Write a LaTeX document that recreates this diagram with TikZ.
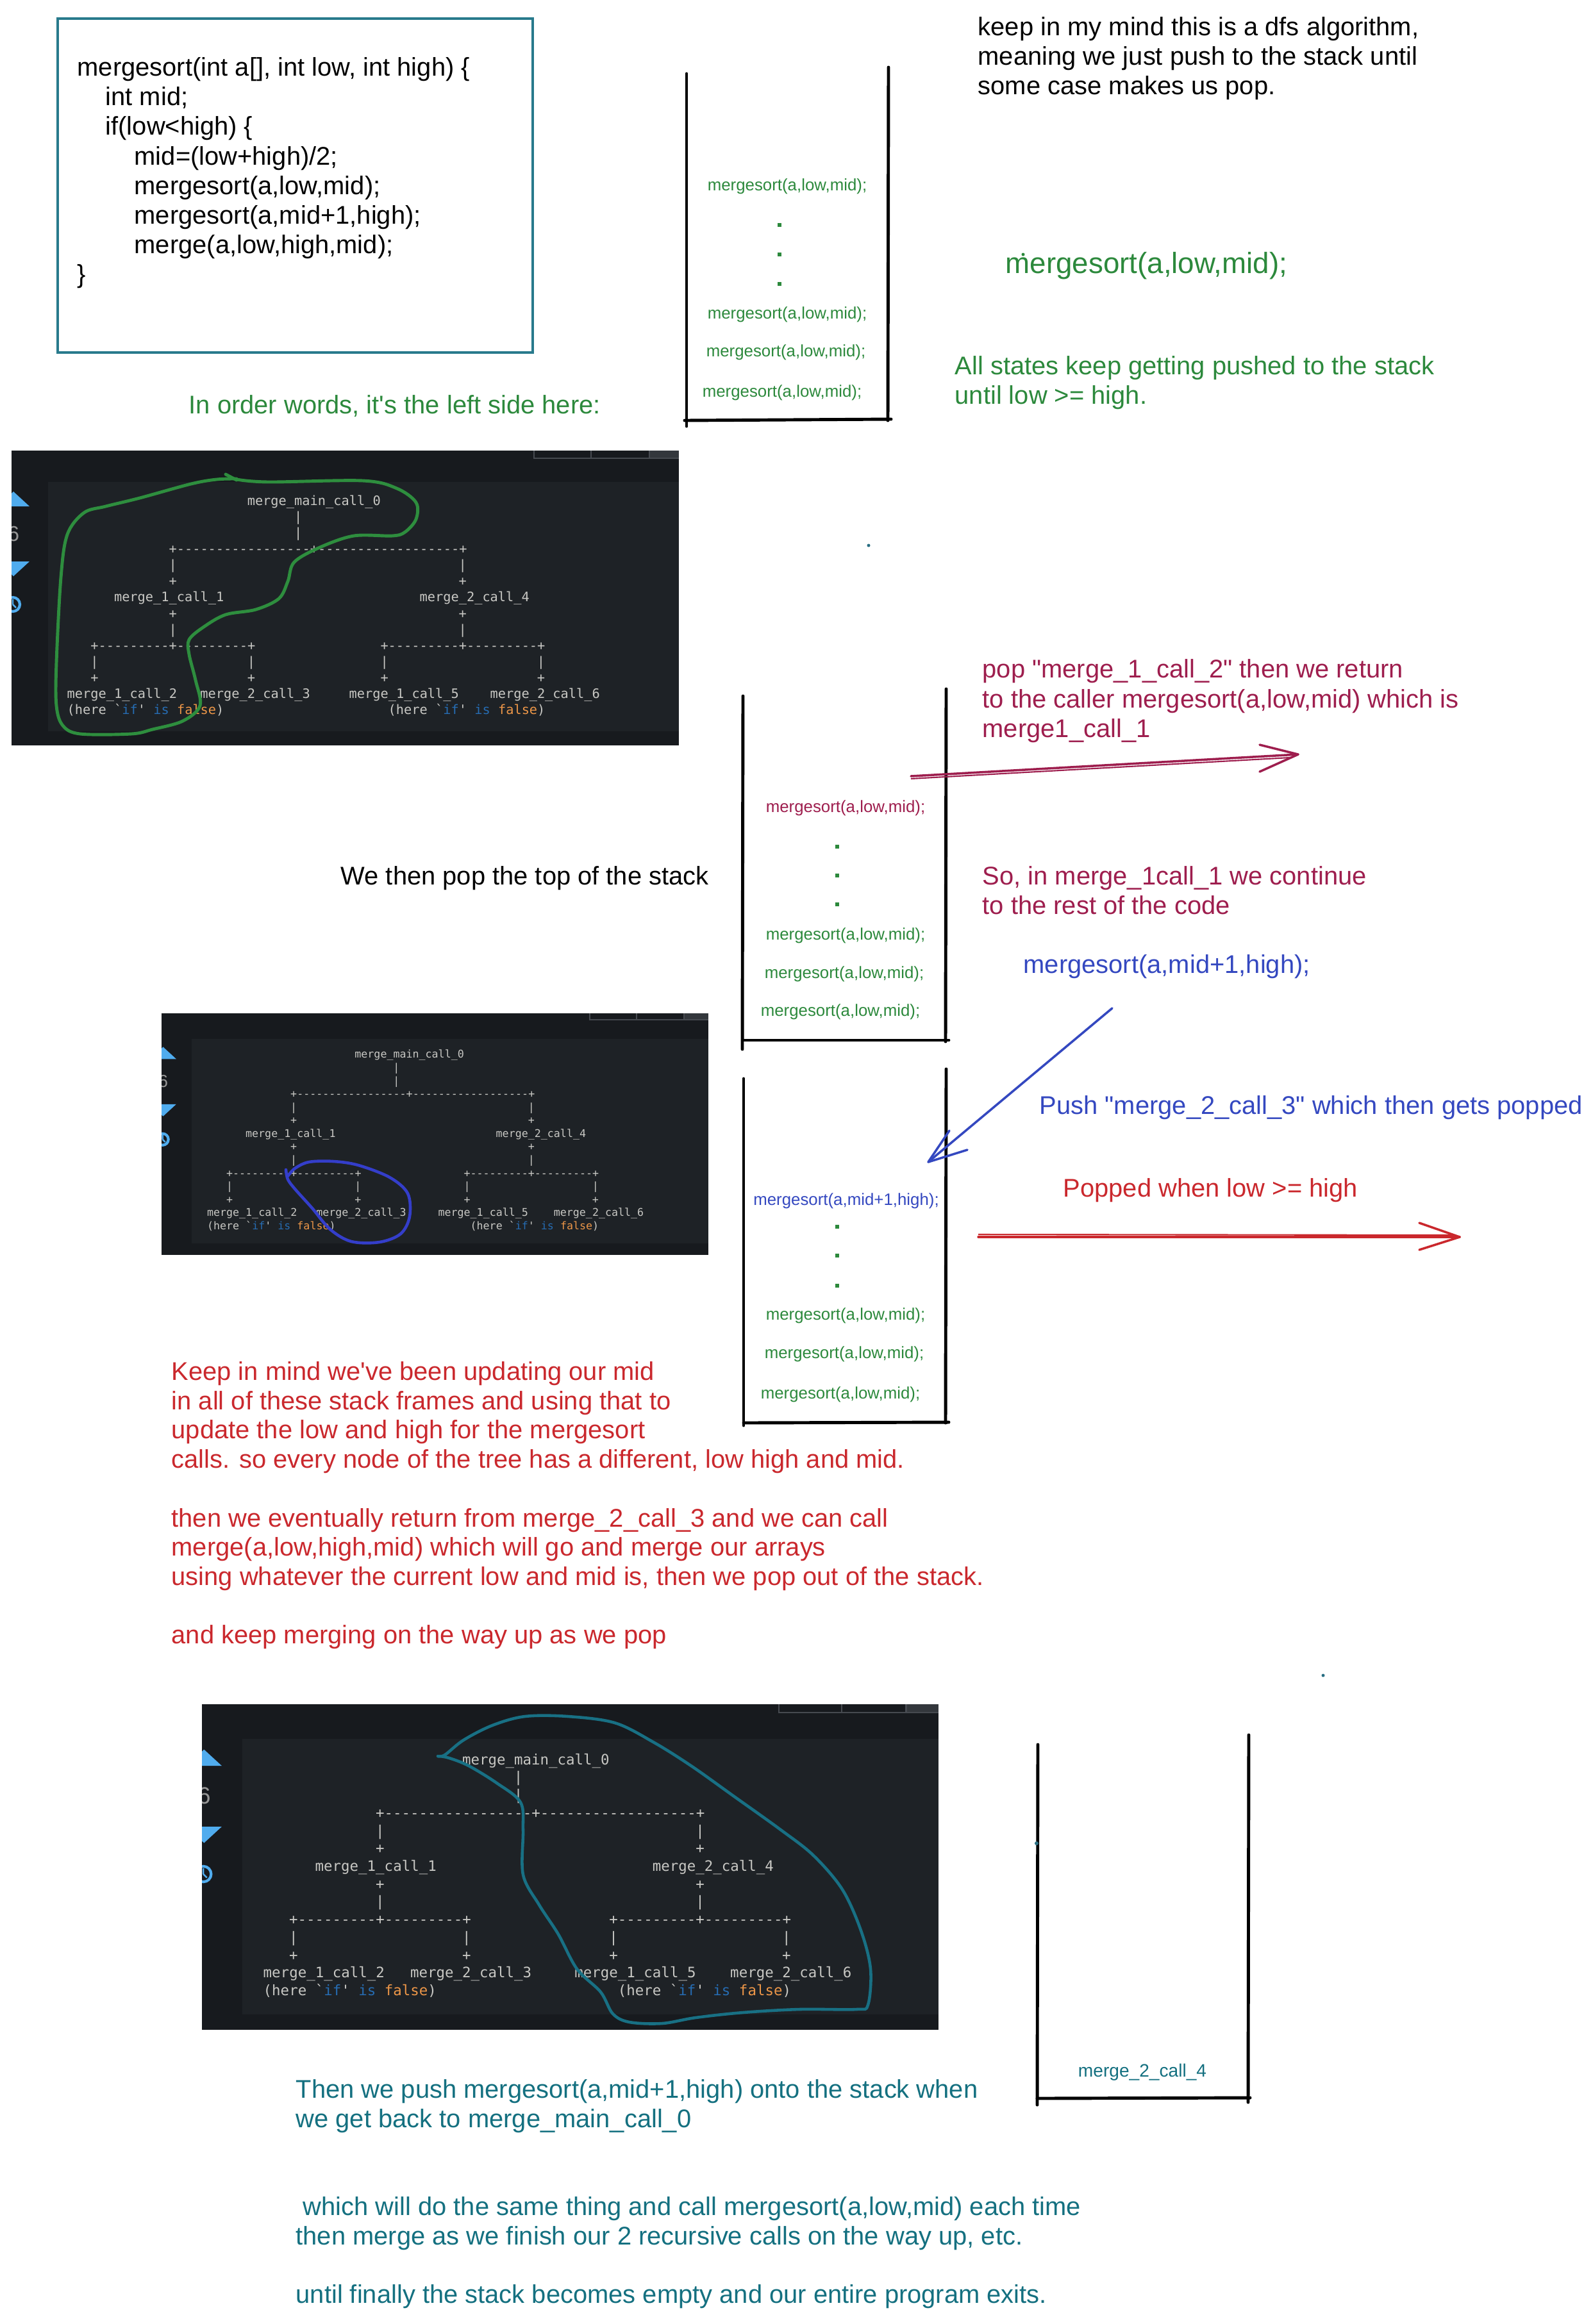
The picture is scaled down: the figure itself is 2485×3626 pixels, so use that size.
\documentclass[tikz,border=0pt]{standalone}
\usepackage{fontspec}
\newfontfamily\sans{Liberation Sans}
\newfontfamily\monof{DejaVu Sans Mono}
\definecolor{boxteal}{RGB}{40,122,140}
\definecolor{grn}{RGB}{44,137,60}
\definecolor{crim}{RGB}{158,30,78}
\definecolor{blu}{RGB}{52,72,192}
\definecolor{rd}{RGB}{202,40,45}
\definecolor{tealtxt}{RGB}{20,112,128}
\definecolor{tealloop}{RGB}{24,112,132}
\definecolor{greenloop}{RGB}{46,142,62}
\definecolor{blueloop}{RGB}{52,62,202}
\definecolor{shotbg}{RGB}{23,26,30}
\definecolor{shotpanel}{RGB}{30,34,38}
\definecolor{ttgray}{RGB}{200,200,196}
\definecolor{ttblue}{RGB}{38,108,178}
\definecolor{ttorange}{RGB}{236,150,72}
\definecolor{iconblue}{RGB}{80,172,238}
\definecolor{sixgray}{RGB}{150,150,150}
\definecolor{tabgray}{RGB}{70,74,80}
\definecolor{dotteal}{RGB}{40,110,130}
\tikzset{
  txt/.style={font=\sans\fontsize{11.35}{13}\selectfont, inner sep=0, anchor=base west},
  stk/.style={font=\sans\fontsize{7.35}{8}\selectfont, inner sep=0, anchor=base},
  treetext/.style={font=\monof\fontsize{5.78}{6}\selectfont, text=ttgray, inner sep=0, anchor=base west},
  stackline/.style={black, line width=1.4pt, line cap=round},
  pen/.style={line width=1pt, line cap=round, line join=round},
}
\newcounter{tnode}
\newcommand\tr[3]{\stepcounter{tnode}\node[treetext] (tt\arabic{tnode}) at ({86+#1*12.22},{85.3+#2*25.1}) {#3};}
\newcommand\heretext{(here \textasciigrave{\color{ttblue}if}\textquotesingle\ {\color{ttblue}is} {\color{ttorange}false})}
\newcommand\shot{%
  \fill[shotbg] (0,0) rectangle (1041,460);
  \fill[shotpanel] (57,49) rectangle (1041,438);
  \begin{scope}
    \clip (0,0) rectangle (1041,460);
    \fill[iconblue] (-22,87) -- (3,64) -- (28,87) -- cycle;
    \fill[iconblue] (-22,173) -- (28,173) -- (3,196) -- cycle;
    \stepcounter{tnode}\node[font=\sans\fontsize{9.5}{10}\selectfont, text=sixgray, inner sep=0, anchor=base east] (tt\arabic{tnode}) at (13,141) {6};
    \draw[iconblue, line width=1.2pt] (2,240) circle [radius=11];
    \draw[iconblue, line width=0.7pt] (2,240) -- (2,232) (2,240) -- (7,245);
  \end{scope}
  \fill[tabgray!60!shotbg] (995,0) rectangle (1041,12);
  \draw[tabgray, line width=0.6pt] (815,0) -- (815,12) -- (1041,12) (904,0) -- (904,12) (995,0) -- (995,12);
  \tr{23}{0}{merge\_main\_call\_0}
  \tr{29}{1}{|}
  \tr{29}{2}{|}
  \tr{13}{3}{+-----------------+------------------+}
  \tr{13}{4}{|}\tr{50}{4}{|}
  \tr{13}{5}{+}\tr{50}{5}{+}
  \tr{6}{6}{merge\_1\_call\_1}\tr{45}{6}{merge\_2\_call\_4}
  \tr{13}{7}{+}\tr{50}{7}{+}
  \tr{13}{8}{|}\tr{50}{8}{|}
  \tr{3}{9}{+---------+---------+}\tr{40}{9}{+---------+---------+}
  \tr{3}{10}{|}\tr{23}{10}{|}\tr{40}{10}{|}\tr{60}{10}{|}
  \tr{3}{11}{+}\tr{23}{11}{+}\tr{40}{11}{+}\tr{60}{11}{+}
  \tr{0}{12}{merge\_1\_call\_2}\tr{17}{12}{merge\_2\_call\_3}\tr{36}{12}{merge\_1\_call\_5}\tr{54}{12}{merge\_2\_call\_6}
  \tr{0}{13}{\heretext}\tr{41}{13}{\heretext}
}
\begin{document}
\begin{tikzpicture}[x=0.01cm, y=-0.01cm]
\useasboundingbox (0,0) rectangle (2485,3626);
\fill[white] (0,0) rectangle (2485,3626);

% ---------- code box ----------
\draw[boxteal, line width=0.9pt] (90,29) rectangle (831,550);
\node[txt] (code1) at (120,118) {mergesort(int a[], int low, int high) \{};
\node[txt] (code2) at (164,164) {int mid;};
\node[txt] (code3) at (164,210) {if(low<high) \{};
\node[txt] (code4) at (209,257) {mid=(low+high)/2;};
\node[txt] (code5) at (209,303) {mergesort(a,low,mid);};
\node[txt] (code6) at (209,349) {mergesort(a,mid+1,high);};
\node[txt] (code7) at (209,395) {merge(a,low,high,mid);};
\node[txt] (code8) at (120,441) {\}};

% ---------- stack 1 ----------
\draw[stackline] (1071,115) -- (1071,665);
\draw[stackline] (1386,105) -- (1385,656);
\draw[stackline] (1068,656) -- (1390,654);
\node[stk, text=grn] (s1a) at (1228,297) {mergesort(a,low,mid);};
\fill[grn] (1213,348) rectangle (1219,354);
\fill[grn] (1213,394) rectangle (1219,400);
\fill[grn] (1213,440) rectangle (1219,446);
\node[stk, text=grn] (s1b) at (1228,497) {mergesort(a,low,mid);};
\node[stk, text=grn] (s1c) at (1226,556) {mergesort(a,low,mid);};
\node[stk, text=grn] (s1d) at (1220,619) {mergesort(a,low,mid);};

% ---------- top right texts ----------
\node[txt] (k1) at (1525,55) {keep in my mind this is a dfs algorithm,};
\node[txt] (k2) at (1525,101) {meaning we just push to the stack until};
\node[txt] (k3) at (1525,147) {some case makes us pop.};
\node[font=\sans\fontsize{13}{15}\selectfont, text=grn, inner sep=0, anchor=base west] (bigms) at (1568,426) {mergesort(a,low,mid);};
\fill[grn] (1596,397) circle [radius=2.5];
\node[txt, text=grn] (g1) at (1489,584) {All states keep getting pushed to the stack};
\node[txt, text=grn] (g2) at (1489,630) {until low >= high.};
\node[txt, text=grn] (g3) at (294,645) {In order words, it's the left side here:};

% ---------- screenshot 1 ----------
\begin{scope}[shift={(18,703)}]
  \shot
  \draw[greenloop, line width=1.4pt, line cap=round, line join=round] (334,37) -- (351,46);
  \draw[greenloop, line width=1.4pt, line cap=round, line join=round] plot[smooth, tension=0.55] coordinates {(351,45) (401,49) (548,47) (601,59) (631,81) (631,107) (614,127) (594,133) (534,133) (481,151) (441,174) (431,204) (417,231) (381,248) (334,256) (300,275) (277,295) (277,318) (287,358) (294,398) (267,422) (220,435) (187,442) (107,442) (80,429) (70,398) (70,331) (77,198) (87,131) (113,97) (147,87) (200,74) (280,52) (320,45) (351,44)};
\end{scope}
\fill[dotteal] (1355,851) circle [radius=2.5];

% ---------- stack 2 ----------
\draw[stackline] (1159,1086) -- (1158,1637);
\draw[stackline] (1476,1075) -- (1475,1625);
\draw[stackline] (1159,1623) -- (1480,1623);
\node[stk, text=crim] (s2a) at (1319,1267) {mergesort(a,low,mid);};
\fill[grn] (1303,1318) rectangle (1309,1324);
\fill[grn] (1303,1363) rectangle (1309,1369);
\fill[grn] (1303,1408) rectangle (1309,1414);
\node[stk, text=grn] (s2b) at (1319,1466) {mergesort(a,low,mid);};
\node[stk, text=grn] (s2c) at (1317,1526) {mergesort(a,low,mid);};
\node[stk, text=grn] (s2d) at (1311,1585) {mergesort(a,low,mid);};

% ---------- stack 3 ----------
\draw[stackline] (1160,1683) -- (1160,2224);
\draw[stackline] (1476,1668) -- (1475,2220);
\draw[stackline] (1160,2220) -- (1480,2219);
\node[stk, text=blu] (s3a) at (1320,1880) {mergesort(a,mid+1,high);};
\fill[grn] (1303,1911) rectangle (1309,1917);
\fill[grn] (1303,1956) rectangle (1309,1962);
\fill[grn] (1303,2003) rectangle (1309,2009);
\node[stk, text=grn] (s3b) at (1319,2059) {mergesort(a,low,mid);};
\node[stk, text=grn] (s3c) at (1317,2119) {mergesort(a,low,mid);};
\node[stk, text=grn] (s3d) at (1311,2182) {mergesort(a,low,mid);};

% ---------- middle texts ----------
\node[txt] (w1) at (531,1380) {We then pop the top of the stack};
\node[txt, text=crim] (c1) at (1532,1057) {pop "merge\_1\_call\_2" then we return};
\node[txt, text=crim] (c2) at (1532,1104) {to the caller mergesort(a,low,mid) which is};
\node[txt, text=crim] (c3) at (1532,1150) {merge1\_call\_1};
\node[txt, text=crim] (c4) at (1532,1380) {So, in merge\_1call\_1 we continue};
\node[txt, text=crim] (c5) at (1532,1426) {to the rest of the code};
\node[txt, text=blu] (b1) at (1596,1518) {mergesort(a,mid+1,high);};
\node[txt, text=blu] (b2) at (1621,1738) {Push "merge\_2\_call\_3" which then gets popped};
\node[txt, text=rd] (r0) at (1658,1867) {Popped when low >= high};

% ---------- arrows ----------
\coordinate (pa1) at (1421,1211);
\coordinate (pa2) at (2025,1177);
\coordinate (pb1) at (1421,1215);
\coordinate (pb2) at (2012,1182);
\coordinate (ph1) at (1965,1162);
\coordinate (ph2) at (1965,1204);
\draw[crim, pen] (pa1) -- (pa2);
\draw[crim, line width=0.6pt] (pb1) -- (pb2);
\draw[crim, pen] (ph1) -- (pa2) -- (ph2);

\coordinate (ba1) at (1735,1573);
\coordinate (ba2) at (1448,1813);
\coordinate (bh1) at (1481,1764);
\coordinate (bh2) at (1509,1794);
\draw[blu, pen] (ba1) -- (ba2);
\draw[blu, pen] (bh1) -- (ba2) -- (bh2);

\coordinate (ra1) at (1526,1930);
\coordinate (ra2) at (2277,1930);
\coordinate (rb1) at (1526,1926);
\coordinate (rb2) at (2268,1927);
\coordinate (rh1) at (2214,1908);
\coordinate (rh2) at (2214,1950);
\draw[rd, pen] (ra1) -- (ra2);
\draw[rd, line width=0.6pt] (rb1) -- (rb2);
\draw[rd, pen] (rh1) -- (ra2) -- (rh2);

% ---------- screenshot 2 ----------
\begin{scope}[shift={(252,1581)}, scale=0.8195, transform shape]
  \shot
\end{scope}
\draw[blueloop, line width=1.3pt, line cap=round, line join=round] plot[smooth, tension=0.55] coordinates {(446,1825) (449,1840) (460,1855) (487,1885) (515,1918) (548,1937) (592,1938) (625,1925) (639,1898) (636,1862) (608,1837) (559,1818) (520,1812) (482,1813) (460,1823) (449,1835)};

% ---------- red block ----------
\node[txt, text=rd] (rl1) at (267,2153) {Keep in mind we've been updating our mid};
\node[txt, text=rd] (rl2) at (267,2199) {in all of these stack frames and using that to};
\node[txt, text=rd] (rl3) at (267,2244) {update the low and high for the mergesort};
\node[txt, text=rd] (rl4) at (267,2290) {calls. so every node of the tree has a different, low high and mid.};
\node[txt, text=rd] (rl5) at (267,2382) {then we eventually return from merge\_2\_call\_3 and we can call};
\node[txt, text=rd] (rl6) at (267,2427) {merge(a,low,high,mid) which will go and merge our arrays};
\node[txt, text=rd] (rl7) at (267,2473) {using whatever the current low and mid is, then we pop out of the stack.};
\node[txt, text=rd] (rl8) at (267,2564) {and keep merging on the way up as we pop};
\fill[dotteal] (2064,2614) circle [radius=2.5];

% ---------- screenshot 3 ----------
\begin{scope}[shift={(315,2659)}, scale=1.104, transform shape]
  \shot
\end{scope}
\draw[tealloop, line width=1.3pt, line cap=round, line join=round] plot[smooth, tension=0.55] coordinates {(683,2740) (694,2738) (723,2715) (768,2692) (819,2678) (886,2678) (959,2688) (1019,2718) (1078,2755) (1144,2802) (1218,2855) (1269,2895) (1314,2948) (1343,3012) (1358,3072) (1354,3128) (1336,3135) (1247,3135) (1159,3140) (1085,3148) (1033,3157) (982,3155) (956,3142) (937,3108) (900,3072) (871,3018) (841,2972) (816,2925) (816,2855) (812,2812) (775,2782) (731,2755) (701,2743) (686,2740)};

% ---------- stack 4 ----------
\draw[stackline] (1619,2722) -- (1618,3284);
\draw[stackline] (1948,2707) -- (1947,3280);
\draw[stackline] (1618,3274) -- (1950,3273);
\fill[dotteal] (1617,2876) circle [radius=3];
\node[font=\sans\fontsize{8}{9}\selectfont, text=tealtxt, inner sep=0, anchor=base] (s4a) at (1782,3240) {merge\_2\_call\_4};

% ---------- teal block ----------
\node[txt, text=tealtxt] (tl1) at (461,3273) {Then we push mergesort(a,mid+1,high) onto the stack when};
\node[txt, text=tealtxt] (tl2) at (461,3319) {we get back to merge\_main\_call\_0};
\node[txt, text=tealtxt] (tl3) at (472,3456) {which will do the same thing and call mergesort(a,low,mid) each time};
\node[txt, text=tealtxt] (tl4) at (461,3502) {then merge as we finish our 2 recursive calls on the way up, etc.};
\node[txt, text=tealtxt] (tl5) at (461,3593) {until finally the stack becomes empty and our entire program exits.};
\end{tikzpicture}
\end{document}
